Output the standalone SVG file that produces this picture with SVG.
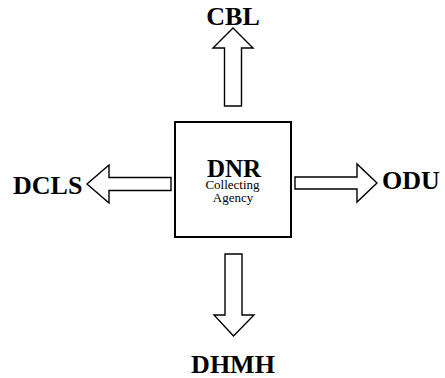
<svg xmlns="http://www.w3.org/2000/svg" width="445" height="378" viewBox="0 0 445 378">
<style>
.lbl{font-family:"Liberation Serif","Times New Roman",serif;font-weight:bold;font-size:26px;fill:#000}
.sub{font-family:"Liberation Serif","Times New Roman",serif;font-size:13px;fill:#000}
.arrow{fill:#fff;stroke:#000;stroke-width:1.4;stroke-linejoin:miter}
</style>
<rect width="445" height="378" fill="#fff"/>
<g id="connectors">
<polygon class="arrow" points="224.5,106 224.5,48 213,48 233,28 253,48 241.5,48 241.5,106"/>
<polygon class="arrow" points="225,254 242,254 242,315 254,315 233.5,336 214,315 225,315"/>
<polygon class="arrow" points="171,177.5 109,177.5 109,165 87,184 109,203 109,190.5 171,190.5"/>
<polygon class="arrow" points="295,177 357,177 357,164 377,183 357,202 357,189 295,189"/>
</g>
<g id="DNR">
<rect x="175" y="122" width="116" height="115" fill="#fff" stroke="#000" stroke-width="2"/>
<text class="lbl" x="234" y="177" text-anchor="middle" font-size="25" style="font-size:25px">DNR</text>
<text class="sub" x="232.5" y="189" text-anchor="middle">Collecting</text>
<text class="sub" x="233" y="201.5" text-anchor="middle">Agency</text>
</g>
<g id="CBL"><text class="lbl" x="233" y="25" text-anchor="middle">CBL</text></g>
<g id="DCLS"><text class="lbl" x="13" y="194">DCLS</text></g>
<g id="ODU"><text class="lbl" x="382" y="189">ODU</text></g>
<g id="DHMH"><text class="lbl" x="233" y="373" text-anchor="middle">DHMH</text></g>
</svg>
